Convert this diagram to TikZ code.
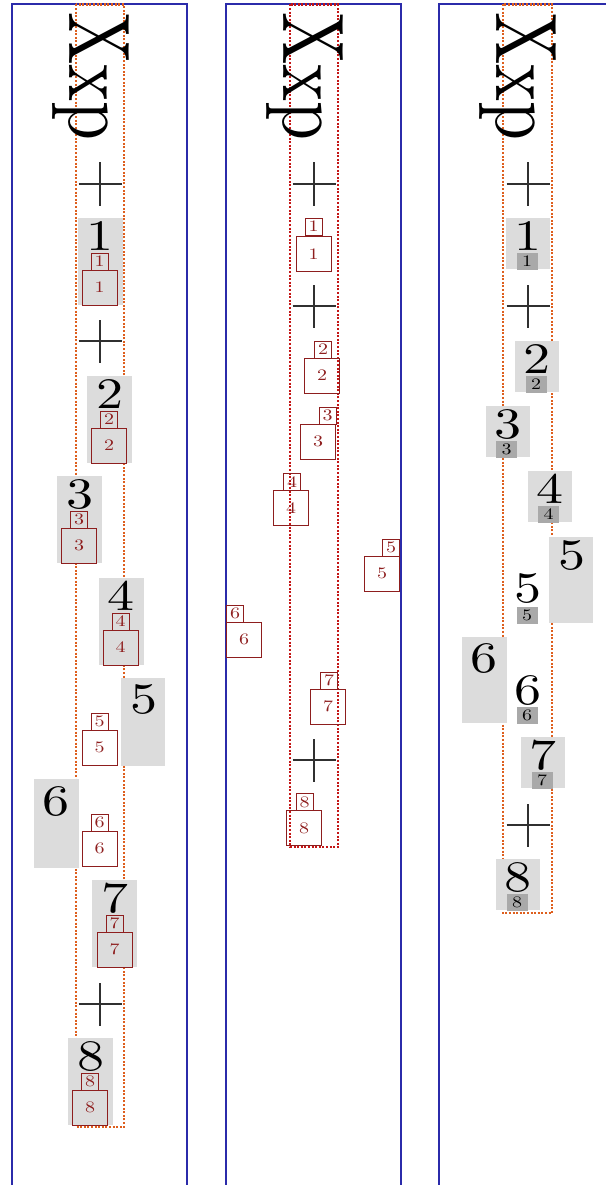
\documentclass[tikz,border=0pt]{standalone}
\usepackage{graphicx}
\definecolor{framec}{HTML}{2B2BAA}
\definecolor{dotor}{HTML}{DE5F1E}
\definecolor{dotred}{HTML}{C41616}
\definecolor{boxred}{HTML}{8E1E1E}
\definecolor{lgray}{HTML}{DCDCDC}
\definecolor{dgray}{HTML}{A9A9A9}
\definecolor{crossc}{HTML}{303030}
\newcommand\bigdig[1]{\scalebox{5.4}[4.35]{\fontsize{10}{12}\selectfont #1}}
\newcommand\smdig[1]{\scalebox{2.0}[1.6]{\fontsize{10}{12}\selectfont #1}}
\newcommand\rottext[1]{\scalebox{1.25}[1]{\rotatebox{-90}{\scalebox{7}{\fontsize{10}{12}\selectfont #1}}}}
\tikzset{
  frame/.style={draw=framec, line width=1.3pt},
  dotbox/.style={line width=2.6pt, dash pattern=on 2pt off 1.6pt},
  lgbox/.style={fill=lgray, inner sep=0pt, outer sep=0pt, minimum width=45pt, anchor=north},
  bigd/.style={inner sep=0pt, outer sep=0pt},
  rsmall/.style={draw=boxred, text=boxred, line width=1pt, inner sep=0pt, minimum width=17pt, minimum height=17pt},
  rlarge/.style={draw=boxred, text=boxred, line width=1pt, inner sep=0pt, minimum width=35pt, minimum height=35pt},
  dbox/.style={fill=dgray, inner sep=0pt, minimum width=21pt, minimum height=17pt},
  crossline/.style={draw=crossc, line width=1.2pt},
}
\begin{document}
\begin{tikzpicture}[x=1pt, y=-1pt]
\useasboundingbox (0,0) rectangle (605,1185);
% frames
\draw[frame] (12,4) rectangle (187,1195);
\draw[frame] (226,4) rectangle (401,1195);
\draw[frame] (439,4) rectangle (614,1195);
% dotted rectangles
\draw[dotbox, draw=dotor] (76,4.5) rectangle (124,1127);
\draw[dotbox, draw=dotred] (290,4.5) rectangle (338,847);
\draw[dotbox, draw=dotor] (503,4.5) rectangle (552,913);
% rotated texts
\node[bigd] (t1) at (91,76.5) {\rottext{Xxp}};
\node[bigd] (t2) at (305,76.5) {\rottext{Xxp}};
\node[bigd] (t3) at (518,76.5) {\rottext{Xxp}};
% crosses
\foreach \n/\cx/\cy in {a1/100/184, a2/100/341, a3/100/1004, b1/314/184, b2/314/306, b3/314/760, c1/528/184, c2/528/306, c3/528/825} {
  \coordinate (x\n) at (\cx,\cy);
  \draw[crossline] ([xshift=-21.5pt]x\n) -- ([xshift=21.5pt]x\n);
  \draw[crossline] ([yshift=-21.5pt]x\n) -- ([yshift=21.5pt]x\n);
}
% ---------- column 1 ----------
\foreach \i/\cx/\gy in {1/100/218, 2/109.5/376, 3/79.5/476, 4/121/578, 7/114.5/880, 8/90.5/1038} {
  \node[lgbox, minimum height=87pt] (ag\i) at (\cx,\gy) {};
  \node[bigd] (ad\i) at (\cx,\gy+18) {\bigdig{\i}};
}
\node[lgbox, minimum width=44pt, minimum height=88pt] (ag5) at (143,678) {};
\node[bigd] (ad5) at (144,699) {\bigdig{5}};
\node[lgbox, minimum width=45pt, minimum height=89pt] (ag6) at (56.5,779) {};
\node[bigd] (ad6) at (56,801) {\bigdig{6}};
\foreach \i/\cx/\gy in {1/99.5/218, 2/109/376, 3/79/476, 4/120.5/578, 5/99.5/678, 6/99.5/779, 7/114.5/880, 8/90/1038} {
  \node[rsmall] (as\i) at (\cx,\gy+43.5) {\smdig{\i}};
  \node[rlarge] (al\i) at (\cx,\gy+69.5) {\smdig{\i}};
}
% ---------- column 2 ----------
\foreach \i/\sx/\sy/\lx/\ly in {1/313.5/226.5/313.5/254, 2/323/349.5/322/375.5, 3/327.5/415.5/318/441.5, 4/292/482/291/508, 5/391/547.5/382/573.5, 6/235/613.5/244/639.5, 7/329/680.5/328/706.5, 8/304.5/802/304/828} {
  \node[rsmall] (bs\i) at (\sx,\sy) {\smdig{\i}};
  \node[rlarge] (bl\i) at (\lx,\ly) {\smdig{\i}};
}
% ---------- column 3 ----------
\foreach \i/\cx/\gy in {1/528/218, 2/537/341, 3/507.5/406, 4/549.5/471, 7/543/737, 8/518/859} {
  \node[lgbox, minimum width=44pt, minimum height=51pt] (cg\i) at (\cx,\gy) {};
  \node[bigd] (cd\i) at (\cx,\gy+18) {\bigdig{\i}};
  \node[dbox] (ck\i) at (\cx-1,\gy+43.5) {\smdig{\i}};
}
\node[lgbox, minimum width=44pt, minimum height=86pt] (cg5) at (571,537) {};
\node[bigd] (cs5) at (571.5,555) {\bigdig{5}};
\node[bigd] (cd5) at (528,588) {\bigdig{5}};
\node[dbox] (ck5) at (527,615.5) {\smdig{5}};
\node[lgbox, minimum width=45pt, minimum height=86pt] (cg6) at (484.5,637) {};
\node[bigd] (cs6) at (484,658.5) {\bigdig{6}};
\node[bigd] (cd6) at (527.5,690) {\bigdig{6}};
\node[dbox] (ck6) at (527,715) {\smdig{6}};
\end{tikzpicture}
\end{document}
